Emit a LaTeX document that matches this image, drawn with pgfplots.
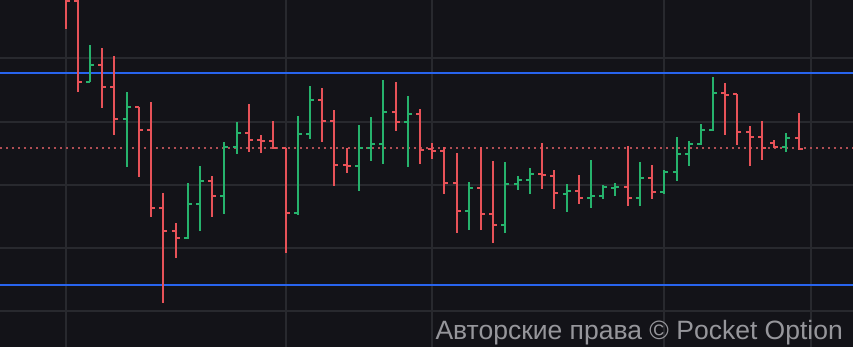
\documentclass[border=0pt]{standalone}
\usepackage{pgfplots}
\usepackage{pgfplotstable}
\usepackage{fontspec}
\pgfplotsset{compat=1.18}
\newfontfamily\wmfont{Liberation Sans}

\definecolor{bgc}{RGB}{19,19,24}
\definecolor{gridc}{RGB}{40,41,46}
\definecolor{barred}{RGB}{231,82,88}
\definecolor{bargreen}{RGB}{38,178,108}
\definecolor{lvlblue}{RGB}{40,100,238}
\definecolor{dotred}{RGB}{176,78,84}
\definecolor{wmgray}{RGB}{150,150,155}

% open tick to the left, close tick to the right
\pgfdeclareplotmark{otick}{\pgfpathmoveto{\pgfqpoint{-4bp}{0pt}}\pgfpathlineto{\pgfqpoint{0pt}{0pt}}\pgfusepathqstroke}
\pgfdeclareplotmark{ctick}{\pgfpathmoveto{\pgfqpoint{0pt}{0pt}}\pgfpathlineto{\pgfqpoint{4bp}{0pt}}\pgfusepathqstroke}

% price scale measured from the top of the chart (x: time slot, H/L/O/C)
\pgfplotstableread{
x H L O C
66 -20 29 -10 1
78 -5 92 1 82
102 48 108 65 87
114 56 135 87 119
139 107 177 107 130
151 102 217 130 208
163 193 303 208 231
176 223 258 231 238
212 176 217 181 196
249 104 152 133 140
261 135 153 140 141
273 121 149 141 148
286 148 253 148 213
322 88 142 100 121
334 110 186 121 165
347 148 173 165 166
396 82 131 112 122
420 109 164 114 150
432 143 159 149 151
444 147 194 151 183
457 153 233 183 211
481 147 230 188 214
493 161 243 214 225
542 143 189 174 175
554 170 209 176 193
579 175 204 191 198
628 146 206 187 198
652 165 199 178 192
725 83 135 93 95
737 94 145 94 132
750 126 166 132 137
762 121 160 137 148
774 140 148 143 147
799 113 150 138 149
}\downbars

\pgfplotstableread{
x H L O C
90 45 82 82 65
127 92 167 119 107
188 183 239 238 204
200 166 231 204 181
224 142 214 196 147
237 122 154 147 133
298 116 215 213 134
310 86 139 134 100
359 125 191 166 148
371 117 161 148 144
383 80 164 144 112
408 96 167 122 114
469 182 230 211 188
505 162 233 225 184
518 176 190 184 180
530 168 194 180 174
567 184 212 194 191
591 160 208 198 196
603 185 199 196 187
615 183 196 188 187
640 162 206 198 178
664 170 194 192 172
677 137 181 172 154
689 141 166 154 144
701 124 145 144 130
713 77 131 130 93
786 133 152 147 138
}\upbars

\begin{document}
\begin{tikzpicture}
\begin{axis}[
  width=853bp, height=347bp, scale only axis,
  xmin=0, xmax=853, ymin=0, ymax=347, y dir=reverse,
  axis background/.style={fill=bgc},
  axis line style={draw=none},
  xtick={66,286,432,664,811}, ytick={58,122,185,248,311},
  xticklabels={}, yticklabels={},
  major tick length=0pt,
  grid=major, grid style={gridc, line width=1.6bp},
  clip=true,
]
% support / resistance levels
\addplot[lvlblue, line width=2bp] coordinates {(0,73) (853,73)};
\addplot[lvlblue, line width=2bp] coordinates {(0,285) (853,285)};
% current price
\addplot[dotred, line width=1.6bp, dash pattern=on 2bp off 4bp] coordinates {(0,148) (853,148)};

% high-low ranges
\addplot[draw=none, mark=none, error bars/.cd, y dir=plus, y explicit, error mark=none,
  error bar style={line width=2bp, barred}]
  table[x=x, y=H, y error expr=\thisrow{L}-\thisrow{H}] {\downbars};
\addplot[draw=none, mark=none, error bars/.cd, y dir=plus, y explicit, error mark=none,
  error bar style={line width=2bp, bargreen}]
  table[x=x, y=H, y error expr=\thisrow{L}-\thisrow{H}] {\upbars};
% open and close ticks
\addplot[only marks, mark=otick, barred, line width=2bp] table[x=x, y=O] {\downbars};
\addplot[only marks, mark=ctick, barred, line width=2bp] table[x=x, y=C] {\downbars};
\addplot[only marks, mark=otick, bargreen, line width=2bp] table[x=x, y=O] {\upbars};
\addplot[only marks, mark=ctick, bargreen, line width=2bp] table[x=x, y=C] {\upbars};

\node[anchor=base east, inner sep=0pt, text=wmgray, font=\wmfont\fontsize{26.5bp}{30bp}\selectfont]
  at (axis cs:843,339) {Авторские права © Pocket Option};
\end{axis}
\pgfresetboundingbox
\path[use as bounding box] (current axis.south west) rectangle (current axis.north east);
\end{tikzpicture}
\end{document}
